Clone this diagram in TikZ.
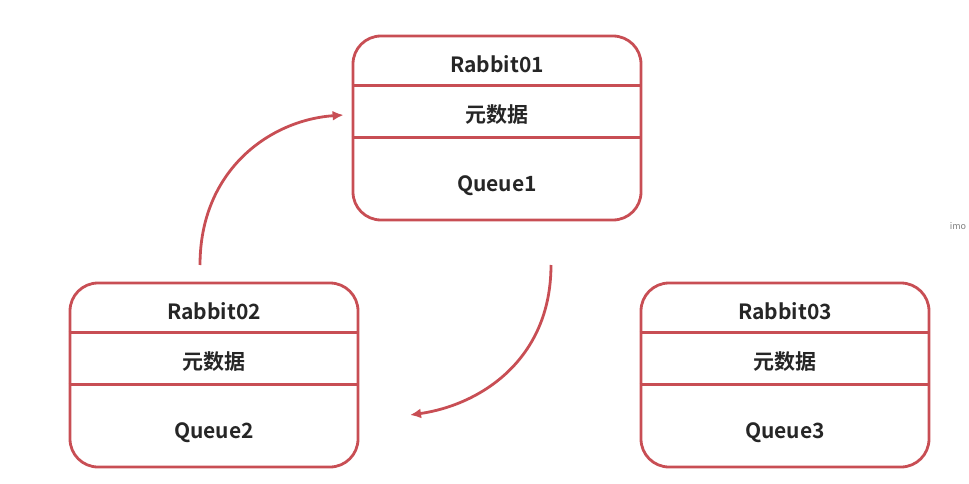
\documentclass[tikz,border=0pt]{standalone}
\usepackage{fontspec}
\setmainfont{Noto Sans CJK SC}[BoldFont={* Bold}]
\usetikzlibrary{arrows.meta,positioning}
\definecolor{rab}{RGB}{200,78,84}
\tikzset{
  box/.style={draw=rab,line width=2.8pt,rounded corners=28pt,minimum width=288pt,minimum height=184pt,inner sep=0pt},
  txt/.style={font=\bfseries\fontsize{21}{24}\selectfont,text=black!85},
  sep/.style={draw=rab,line width=2.8pt},
  flow/.style={draw=rab,line width=2.8pt,-{Latex[length=11pt,width=10pt]}}
}
\newcommand{\server}[5]{%
  \node[box] (#1) at (#2,#3) {};
  \node[txt] (#1n) at ([yshift=-30pt]#1.north) {#4};
  \node[txt] (#1m) at ([yshift=-80pt]#1.north) {元数据};
  \node[txt] (#1q) at ([yshift=36pt]#1.south) {#5};
  \draw[sep] ([yshift=-51pt]#1.north west) -- ([yshift=-51pt]#1.north east);
  \draw[sep] ([yshift=-103pt]#1.north west) -- ([yshift=-103pt]#1.north east);
}
\begin{document}
\begin{tikzpicture}[x=1pt,y=-1pt]
\useasboundingbox (0,0) rectangle (969,484);
\server{r1}{497}{128}{Rabbit01}{Queue1}
\server{r2}{214}{375}{Rabbit02}{Queue2}
\server{r3}{785}{375}{Rabbit03}{Queue3}
% links
\coordinate (a1) at (200,265);
\coordinate (a2) at (551,265);
\draw[flow] (a1) .. controls (200,170) and (270,120) .. ([xshift=-8pt]r1.west |- 0,115);
\draw[flow] (a2) .. controls (551,360) and (480,405) .. (410,415);
\node[text=gray,font=\fontsize{9}{10}\selectfont] (imo) at (958,226) {imo};
\end{tikzpicture}
\end{document}
